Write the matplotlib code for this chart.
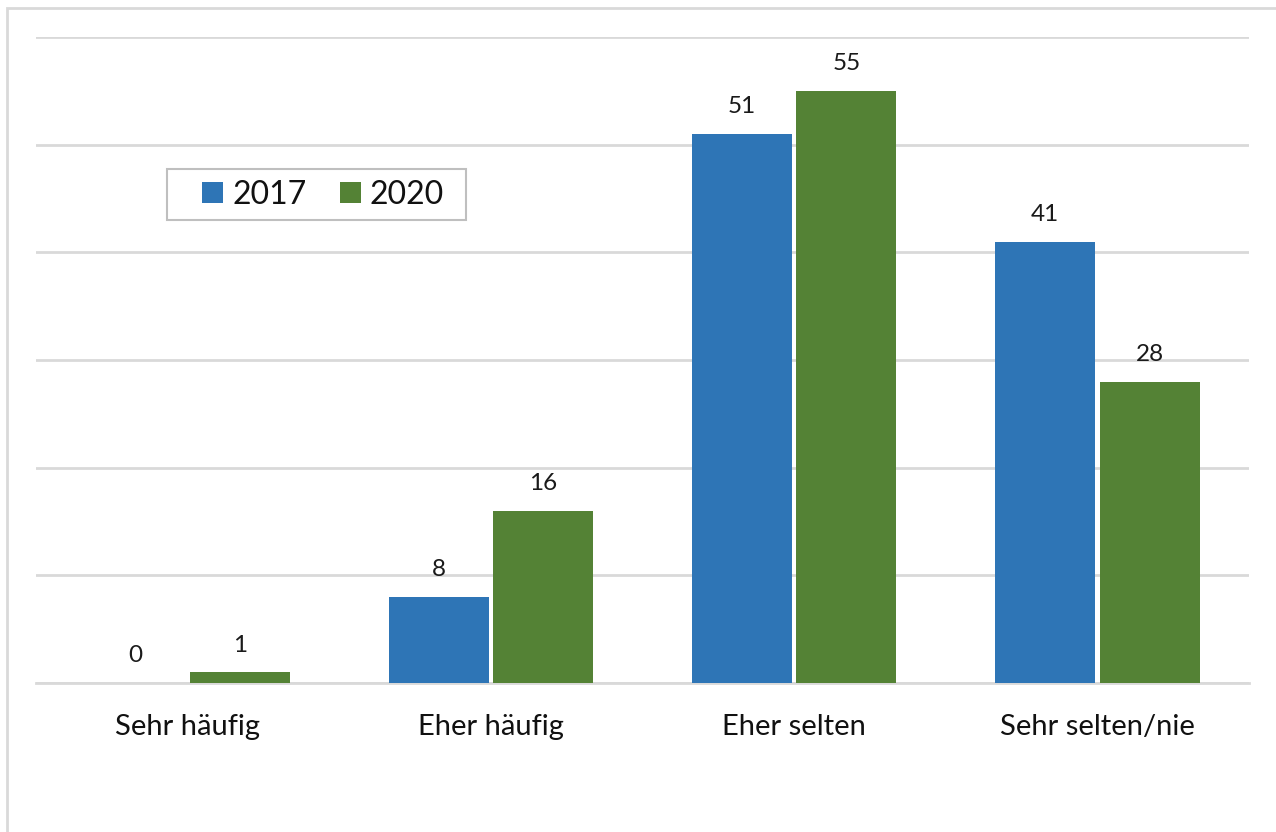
import numpy as np
import matplotlib.pyplot as plt
from matplotlib.patches import Rectangle

plt.rcParams["font.family"] = ["Lato", "DejaVu Sans"]

categories = ["Sehr häufig", "Eher häufig", "Eher selten", "Sehr selten/nie"]
years = ["2017", "2020"]
values_2017 = [0, 8, 51, 41]
values_2020 = [1, 16, 55, 28]

BLUE = "#2E75B6"
GREEN = "#548235"
GRID = "#D9D9D9"

W, H = 1276, 832
fig = plt.figure(figsize=(W / 100, H / 100), dpi=100)
fig.patch.set_facecolor("white")

# outer chart frame (left/top edges visible, rest runs off the canvas)
fig.patches.append(
    Rectangle((6.5 / W, -0.05), 1.2, 1.05 - 7.5 / H, transform=fig.transFigure,
              facecolor="none", edgecolor=GRID, linewidth=2)
)

ax = fig.add_axes([36 / W, (H - 683) / H, (1249 - 36) / W, (683 - 37) / H])
x = np.arange(len(categories))
width = 0.33
offset = 0.1725

bars_a = ax.bar(x - offset, values_2017, width, color=BLUE, label=years[0], zorder=3)
bars_b = ax.bar(x + offset, values_2020, width, color=GREEN, label=years[1], zorder=3)

for bars in (bars_a, bars_b):
    for b in bars:
        ax.annotate(f"{b.get_height():g}", (b.get_x() + b.get_width() / 2, b.get_height()),
                    xytext=(0, 12), textcoords="offset points", ha="center", va="bottom",
                    fontsize=17.5, color="#1a1a1a")

ax.set_xlim(-0.5, len(categories) - 0.5)
ax.set_ylim(0, 60)
ax.set_yticks(np.arange(0, 61, 10))
ax.yaxis.grid(True, color=GRID, linewidth=2)
ax.set_axisbelow(True)
ax.tick_params(axis="y", left=False, labelleft=False)
ax.tick_params(axis="x", bottom=False, pad=19, labelsize=21, labelcolor="#111111")
ax.set_xticks(x)
ax.set_xticklabels(categories)
for s in ("top", "right", "left"):
    ax.spines[s].set_visible(False)
ax.spines["bottom"].set_color(GRID)
ax.spines["bottom"].set_linewidth(2)

# legend box
fig.patches.append(
    Rectangle((167 / W, 1 - 220 / H), (466 - 167) / W, 51 / H, transform=fig.transFigure,
              facecolor="white", edgecolor="#BFBFBF", linewidth=1.5, zorder=5)
)
leg = fig.legend(handles=[bars_a, bars_b], labels=years, loc="center left",
                 bbox_to_anchor=(202 / W, 1 - 194.5 / H), ncol=2, fontsize=23,
                 frameon=False, handlelength=0.66, handleheight=0.66,
                 handletextpad=0.28, columnspacing=1.05, borderpad=0, borderaxespad=0)
leg.set_zorder(6)
for t in leg.get_texts():
    t.set_color("#111111")

fig.savefig("out.png", dpi=100)
